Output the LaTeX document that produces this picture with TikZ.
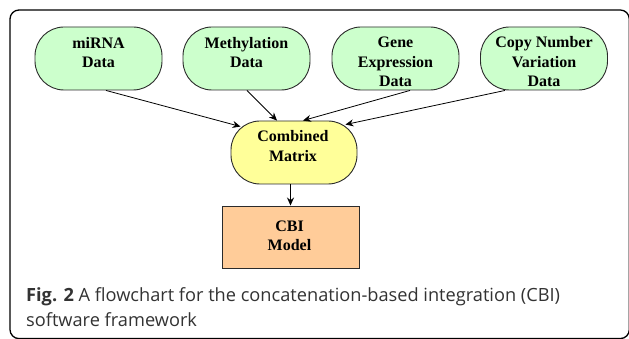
\documentclass[tikz,border=0pt]{standalone}
\usepackage{fontspec}
\setmainfont{Liberation Serif}
\newfontfamily\capfont{Open Sans}
\usetikzlibrary{arrows.meta,calc}
\definecolor{datagreen}{HTML}{CCFFCC}
\definecolor{combyellow}{HTML}{FFFF99}
\definecolor{modelorange}{HTML}{FFCC99}
\definecolor{edgegray}{HTML}{2B2B2B}
\definecolor{captext}{HTML}{333333}
\tikzset{
  databox/.style={draw=edgegray, line width=0.9pt, fill=datagreen, rounded corners=29pt, minimum width=127pt, minimum height=63pt, inner sep=0pt},
  combbox/.style={draw=edgegray, line width=0.9pt, fill=combyellow, rounded corners=29pt, minimum width=126pt, minimum height=63pt, inner sep=0pt},
  modelbox/.style={draw=edgegray, line width=0.9pt, fill=modelorange, minimum width=137pt, minimum height=62pt, inner sep=0pt},
  lbl/.style={font=\bfseries\fontsize{16}{19.5}\selectfont, align=center, inner sep=0pt, anchor=base},
  flow/.style={draw=black, line width=0.8pt, -{Stealth[length=8pt,width=7pt]}},
}
\begin{document}
\begin{tikzpicture}[x=1pt,y=-1pt]
\useasboundingbox (0,0) rectangle (629,339);
\fill[white] (0,0) rectangle (629,339);
\begin{scope}
  \clip (0,0) rectangle (629,339);
  \draw[line width=1.3pt, black, rounded corners=9pt] (10,10) rectangle (629.3,338.6);
\end{scope}
% data nodes
\node[databox] (mirna) at (98.5,58.5) {};
\node[databox] (meth) at (246.5,58.5) {};
\node[databox] (gene) at (395.5,58.5) {};
\node[databox] (cnv) at (544,58.5) {};
\node[lbl] (mirnat) at ($(mirna.north)+(0,41)$) {miRNA\\Data};
\node[lbl] (metht) at ($(meth.north)+(0,41)$) {Methylation\\Data};
\node[lbl] (genet) at ($(gene.north)+(0,60)$) {Gene\\Expression\\Data};
\node[lbl] (cnvt) at ($(cnv.north)+(0,60)$) {Copy Number\\Variation\\Data};
% combined
\node[combbox] (comb) at (294,152.5) {};
\node[lbl] (combt) at ($(comb.center)+(-1,9)$) {Combined\\Matrix};
% model
\node[modelbox] (model) at (290.5,237) {};
\node[lbl] (modelt) at ($(model.center)+(-1,14)$) {CBI\\Model};
% arrows
\draw[flow] ($(mirna.south)+(7.5,0)$) -- ($(comb.north west)+(10,6)$);
\draw[flow] ($(meth.south)+(0.5,0)$) -- ($(comb.north)+(-17,0)$);
\draw[flow] ($(gene.south)+(14.5,0)$) -- ($(comb.north)+(9,0)$);
\draw[flow] ($(cnv.south)+(-39,0)$) -- ($(comb.north east)+(-12,4)$);
\draw[flow, line width=1.3pt] (comb.south -| model.north) -- (model.north);
% caption
\node[font=\capfont\fontsize{18.2}{25}\selectfont, text=captext, align=left, anchor=base west, inner sep=0pt] (cap) at (26,326)
  {{\bfseries Fig. 2} A flowchart for the concatenation-based integration (CBI)\\software framework};
\end{tikzpicture}
\end{document}
